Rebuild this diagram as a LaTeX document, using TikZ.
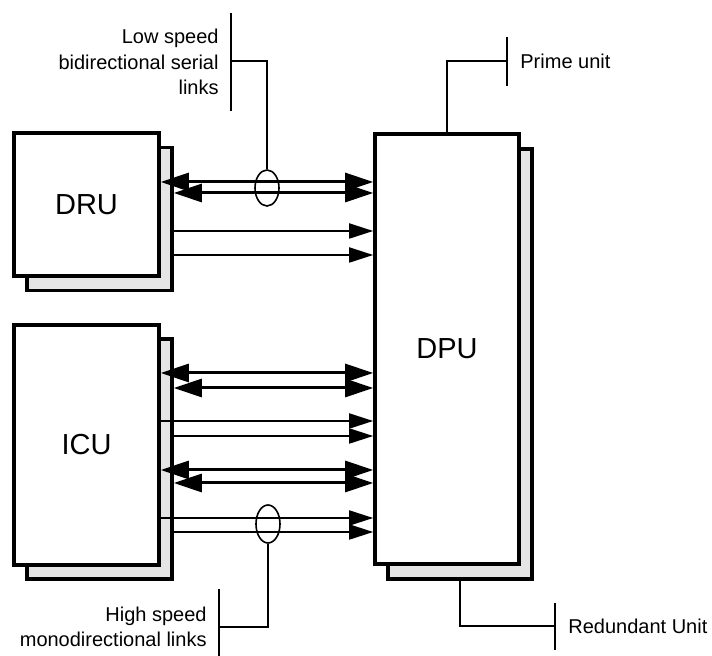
\documentclass[tikz,border=0pt]{standalone}
\usepackage{fontspec}
\setmainfont{Liberation Sans}
\usetikzlibrary{arrows.meta,shapes.geometric}

\tikzset{
  unit/.style={draw, line width=1.8pt, fill=white, minimum width=72.5pt, font=\fontsize{14.5}{17}\selectfont},
  spare/.style={draw, line width=1.8pt, fill=black!10, minimum width=72.5pt},
  duplex/.style={line width=1.5pt, {Triangle[length=14pt,width=9pt]}-{Triangle[length=14pt,width=9pt]}},
  simplex/.style={line width=0.9pt, -{Triangle[length=12pt,width=7.5pt]}},
  leader/.style={line width=0.8pt},
  tie/.style={draw, ellipse, line width=0.8pt, inner sep=0pt, minimum width=12pt, minimum height=18pt},
  note/.style={font=\fontsize{10}{12.7}\selectfont, inner sep=0pt}
}

\begin{document}
\begin{tikzpicture}[x=0.5pt,y=-0.5pt]
    \useasboundingbox (0,0) rectangle (712,656);

    % redundant units behind
    \node[spare, minimum height=71.5pt] (druback) at (99.5,219) {};
    \node[spare, minimum height=120pt] (icuback) at (99.5,459) {};
    \node[spare, minimum width=72pt, minimum height=215pt] (dpuback) at (460,364) {};

    % prime units
    \node[unit, minimum height=71.5pt] (dru) at (86.5,204.5) {DRU};
    \node[unit, minimum height=120pt] (icu) at (86.5,445) {ICU};
    \node[unit, minimum width=72pt, minimum height=215pt] (dpu) at (447,349) {DPU};

    % DRU <-> DPU
    \draw[duplex] (dru.east |- 0,182) -- (dpu.west |- 0,182);
    \draw[duplex] (druback.east |- 0,193) -- (dpu.west |- 0,193);
    \draw[simplex] (druback.east |- 0,231) -- (dpu.west |- 0,231);
    \draw[simplex] (druback.east |- 0,255) -- (dpu.west |- 0,255);

    % ICU <-> DPU
    \draw[duplex] (icu.east |- 0,373) -- (dpu.west |- 0,373);
    \draw[duplex] (icuback.east |- 0,388) -- (dpu.west |- 0,388);
    \draw[simplex] (icu.east |- 0,421) -- (dpu.west |- 0,421);
    \draw[simplex] (icuback.east |- 0,436) -- (dpu.west |- 0,436);
    \draw[duplex] (icu.east |- 0,470) -- (dpu.west |- 0,470);
    \draw[duplex] (icuback.east |- 0,483) -- (dpu.west |- 0,483);
    \draw[simplex] (icu.east |- 0,518) -- (dpu.west |- 0,518);
    \draw[simplex] (icuback.east |- 0,532) -- (dpu.west |- 0,532);

    % cable ties
    \node[tie] (lowtie) at (267,188) {};
    \node[tie, minimum height=19pt] (hightie) at (268,524) {};

    % callouts
    \node[note, anchor=east, align=right] (lowtext) at (219,62) {Low speed\\bidirectional serial\\links};
    \node[note, anchor=east, align=right] (hightext) at (207,627) {High speed\\monodirectional links};
    \node[note, anchor=west] (primetext) at (520,61) {Prime unit};
    \node[note, anchor=west] (redtext) at (568,626) {Redundant Unit};

    \draw[leader] (lowtie.north) |- (231,61);
    \draw[leader] (231,13) -- (231,111);
    \draw[leader] (hightie.south) |- (219,627);
    \draw[leader] (219,589) -- (219,656);
    \draw[leader] (dpu.north) |- (507,61);
    \draw[leader] (507,37) -- (507,86);
    \draw[leader] (dpuback.south) |- (555,626);
    \draw[leader] (555,603) -- (555,650);
\end{tikzpicture}
\end{document}
